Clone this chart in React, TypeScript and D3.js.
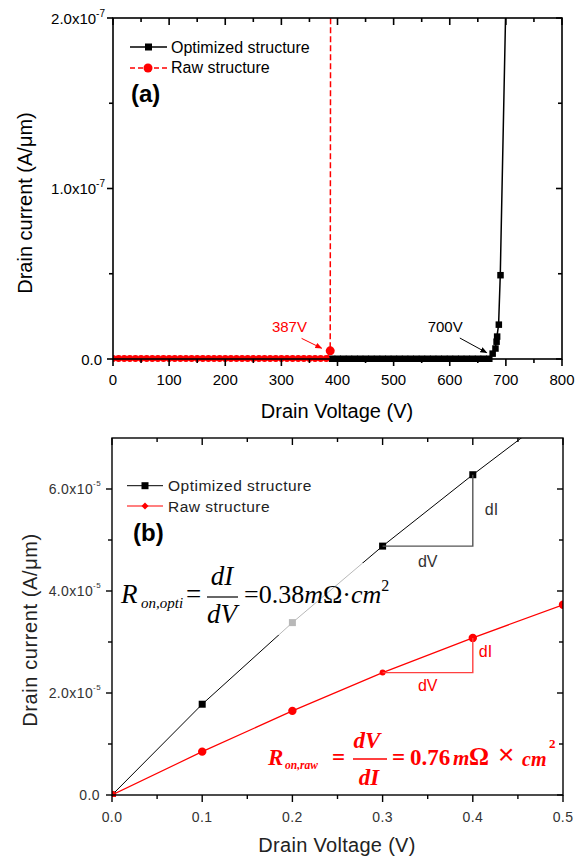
import React from "react";
import * as d3 from "d3";

// ---------- Panel (a) data ----------
const rawVa = [0, 10, 20, 30, 40, 50, 60, 70, 80, 90, 100, 110, 120, 130, 140, 150, 160, 170, 180, 190, 200, 210, 220, 230, 240, 250, 260, 270, 280, 290, 300, 310, 320, 330, 340, 350, 360, 370, 380, 387, 388];
const rawIa = [0, 0, 0, 0, 0, 0, 0, 0, 0, 0, 0, 0, 0, 0, 0, 0, 0, 0, 0, 0, 0, 0, 0, 0, 0, 0, 0, 0, 0, 0, 0, 0, 0, 0, 0, 0, 0, 0, 0, 4.5e-9, 3e-7];
const optVa = [390, 400, 410, 420, 430, 440, 450, 460, 470, 480, 490, 500, 510, 520, 530, 540, 550, 560, 570, 580, 590, 600, 610, 620, 630, 640, 650, 660, 670, 676, 681, 683, 684, 687, 690, 700];
const optIa = [0, 0, 0, 0, 0, 0, 0, 0, 0, 0, 0, 0, 0, 0, 0, 0, 0, 0, 0, 0, 0, 0, 0, 0, 0, 0, 0, 0, 0, 3e-9, 6e-9, 1.0e-8, 1.3e-8, 2.0e-8, 4.9e-8, 2.1e-7];

const xMajorA = [0, 100, 200, 300, 400, 500, 600, 700, 800];
const xMinorA = [50, 150, 250, 350, 450, 550, 650, 750];
const yMajorA = [0, 1e-7, 2e-7];
const yLabelsA = ["0.0", "1.0x10", "2.0x10"];
const yExpA = ["", "-7", "-7"];
const yMinorA = [0.5e-7, 1.5e-7];

// annotations (data coords): text anchor point, arrow start, arrow tip
const annA = [
  { label: "387V", tx: 345.6, ty: 1.6e-8, ax: 336, ay: 1.21e-8, bx: 371.8, by: 6.3e-9, color: "#ff0000", anchor: "end" },
  { label: "700V", tx: 560.7, ty: 1.6e-8, ax: 618, ay: 1.23e-8, bx: 665.8, by: 3.7e-9, color: "#000000", anchor: "start" },
];

// ---------- Panel (b) data ----------
const voltB = [0, 0.1, 0.2, 0.3, 0.4, 0.5];
const optIb = [0, 1.78e-5, 3.38e-5, 4.88e-5, 6.28e-5, 7.62e-5];
const rawIb = [0, 0.85e-5, 1.65e-5, 2.4e-5, 3.08e-5, 3.73e-5];
const triFrom = 3; // index 0.3 V
const triTo = 4; // index 0.4 V

const xMajorB = [0, 0.1, 0.2, 0.3, 0.4, 0.5];
const xLabelsB = ["0.0", "0.1", "0.2", "0.3", "0.4", "0.5"];
const xMinorB = [0.05, 0.15, 0.25, 0.35, 0.45];
const yMajorB = [0, 2e-5, 4e-5, 6e-5];
const yLabelsB = ["0.0", "2.0x10", "4.0x10", "6.0x10"];
const yExpB = ["", "-5", "-5", "-5"];
const yMinorB = [1e-5, 3e-5, 5e-5];

const SANS = "'Liberation Sans', Arial, sans-serif";
const SERIF = "'Liberation Serif', 'Times New Roman', serif";

type FrameProps = {
  x: d3.ScaleLinear<number, number>;
  y: d3.ScaleLinear<number, number>;
  xMajor: number[];
  xMinor: number[];
  yMajor: number[];
  yMinor: number[];
  sw: number;
};

function Frame({ x, y, xMajor, xMinor, yMajor, yMinor, sw }: FrameProps) {
  const [l, r] = x.range();
  const [b, t] = y.range();
  const ticks: JSX.Element[] = [];
  xMajor.forEach((v, i) => {
    ticks.push(<line key={"xb" + i} x1={x(v)} x2={x(v)} y1={b} y2={b + 7} />);
    ticks.push(<line key={"xt" + i} x1={x(v)} x2={x(v)} y1={t} y2={t + 7} />);
  });
  xMinor.forEach((v, i) => {
    ticks.push(<line key={"xbm" + i} x1={x(v)} x2={x(v)} y1={b} y2={b + 4} />);
    ticks.push(<line key={"xtm" + i} x1={x(v)} x2={x(v)} y1={t} y2={t + 4} />);
  });
  yMajor.forEach((v, i) => {
    ticks.push(<line key={"yl" + i} x1={l - 6} x2={l} y1={y(v)} y2={y(v)} />);
    ticks.push(<line key={"yr" + i} x1={r - 6} x2={r} y1={y(v)} y2={y(v)} />);
  });
  yMinor.forEach((v, i) => {
    ticks.push(<line key={"ylm" + i} x1={l - 4} x2={l} y1={y(v)} y2={y(v)} />);
    ticks.push(<line key={"yrm" + i} x1={r - 4} x2={r} y1={y(v)} y2={y(v)} />);
  });
  return (
    <g stroke="#000" strokeWidth={sw} fill="none">
      <rect x={l} y={t} width={r - l} height={b - t} />
      {ticks}
    </g>
  );
}

export default function App() {
  // Panel (a)
  const xa = d3.scaleLinear().domain([0, 800]).range([113, 562]);
  const ya = d3.scaleLinear().domain([0, 2e-7]).range([359, 18]);
  const rawPathA = d3.line<number>().x((_, i) => xa(rawVa[i])).y((d) => ya(d))(rawIa) || "";
  const optPathA = d3.line<number>().x((_, i) => xa(optVa[i])).y((d) => ya(d))(optIa) || "";

  // Panel (b)
  const xb = d3.scaleLinear().domain([0, 0.5]).range([112, 563]);
  const yb = d3.scaleLinear().domain([0, 7e-5]).range([795, 438]);
  const optPathB = d3.line<number>().x((_, i) => xb(voltB[i])).y((d) => yb(d))(optIb) || "";
  const rawPathB = d3.line<number>().x((_, i) => xb(voltB[i])).y((d) => yb(d))(rawIb) || "";

  const red = "#ff0000";

  return (
    <svg
      width={586}
      height={861}
      style={{ position: "absolute", left: 0, top: 0, background: "#fff" }}
      xmlns="http://www.w3.org/2000/svg"
    >
      <defs>
        <clipPath id="clipA">
          <rect x={113} y={18} width={449} height={345} />
        </clipPath>
        <clipPath id="clipB">
          <rect x={112} y={438} width={451} height={359} />
        </clipPath>
        <marker id="arrRed" viewBox="0 0 10 10" refX="9" refY="5" markerWidth="7" markerHeight="7" orient="auto">
          <path d="M0,1 L10,5 L0,9 z" fill={red} />
        </marker>
        <marker id="arrBlk" viewBox="0 0 10 10" refX="9" refY="5" markerWidth="7" markerHeight="7" orient="auto">
          <path d="M0,1 L10,5 L0,9 z" fill="#000" />
        </marker>
      </defs>
      <rect x={0} y={0} width={586} height={861} fill="#fff" />

      {/* ================= Panel (a) ================= */}
      <g clipPath="url(#clipA)">
        <path d={optPathA} fill="none" stroke="#000" strokeWidth={1.5} />
        {optVa.map((v, i) => (
          <rect key={"oa" + i} x={xa(v) - 3} y={ya(optIa[i]) - 3.5} width={6.5} height={6.5} fill="#000" />
        ))}
        <path d={rawPathA} fill="none" stroke={red} strokeWidth={1.5} strokeDasharray="6,3" />
        {rawVa.map((v, i) => (
          <circle
            key={"ra" + i}
            cx={xa(v)}
            cy={ya(rawIa[i]) - 0.5}
            r={i === rawVa.length - 2 ? 4.5 : 3.4}
            fill={red}
          />
        ))}
      </g>
      <Frame x={xa} y={ya} xMajor={xMajorA} xMinor={xMinorA} yMajor={yMajorA} yMinor={yMinorA} sw={1.6} />

      {/* tick labels (a) */}
      <g fontFamily={SANS} fontSize={15} fill="#000">
        {xMajorA.map((v) => (
          <text key={"xla" + v} x={xa(v)} y={385} textAnchor="middle">
            {v}
          </text>
        ))}
        {yMajorA.map((v, i) => (
          <text key={"yla" + i} x={yExpA[i] ? 105 : 102} y={ya(v) + 5.5} textAnchor="end">
            {yLabelsA[i]}
            {yExpA[i] ? (
              <tspan dy={-7} fontSize={10}>
                {yExpA[i]}
              </tspan>
            ) : null}
          </text>
        ))}
      </g>
      <text x={337} y={418} textAnchor="middle" fontFamily={SANS} fontSize={20}>
        Drain Voltage (V)
      </text>
      <text
        transform="translate(32,203) rotate(-90)"
        textAnchor="middle"
        fontFamily={SANS}
        fontSize={20}
      >
        Drain current (A/μm)
      </text>

      {/* legend (a) */}
      <line x1={130} x2={167} y1={47} y2={47} stroke="#000" strokeWidth={1.5} />
      <rect x={145} y={43.5} width={7} height={7} fill="#000" />
      <text x={171} y={53} fontFamily={SANS} fontSize={16}>
        Optimized structure
      </text>
      <line x1={130} x2={167} y1={68} y2={68} stroke={red} strokeWidth={1.5} strokeDasharray="5,3" />
      <circle cx={148} cy={68} r={4.5} fill={red} />
      <text x={171} y={73} fontFamily={SANS} fontSize={16}>
        Raw structure
      </text>
      <text x={131} y={102} fontFamily={SANS} fontSize={24} fontWeight="bold">
        (a)
      </text>

      {/* annotations (a) */}
      {annA.map((a) => (
        <g key={a.label}>
          <text
            x={xa(a.tx)}
            y={ya(a.ty)}
            textAnchor={a.anchor as any}
            fontFamily={SANS}
            fontSize={15}
            fill={a.color}
          >
            {a.label}
          </text>
          <line
            x1={xa(a.ax)}
            y1={ya(a.ay)}
            x2={xa(a.bx)}
            y2={ya(a.by)}
            stroke={a.color}
            strokeWidth={1}
            markerEnd={a.color === "#000000" ? "url(#arrBlk)" : "url(#arrRed)"}
          />
        </g>
      ))}

      {/* ================= Panel (b) ================= */}
      <g clipPath="url(#clipB)">
        <path d={optPathB} fill="none" stroke="#000" strokeWidth={1} />
        <path d={rawPathB} fill="none" stroke={red} strokeWidth={1.2} />
        {voltB.map((v, i) => (
          <rect key={"ob" + i} x={xb(v) - 3.5} y={yb(optIb[i]) - 3.5} width={7} height={7} fill="#000" />
        ))}
        {voltB.map((v, i) => (
          <circle key={"rb" + i} cx={xb(v)} cy={yb(rawIb[i])} r={i === 3 ? 3 : 4.2} fill={red} />
        ))}
        {/* dI / dV triangles */}
        <path
          d={`M${xb(voltB[triFrom])},${yb(optIb[triFrom])} H${xb(voltB[triTo])} V${yb(optIb[triTo])}`}
          fill="none"
          stroke="#555"
          strokeWidth={1.4}
        />
        <path
          d={`M${xb(voltB[triFrom])},${yb(rawIb[triFrom])} H${xb(voltB[triTo])} V${yb(rawIb[triTo])}`}
          fill="none"
          stroke="#ff4040"
          strokeWidth={1.4}
        />
      </g>
      {/* translucent backdrop of the pasted formula */}
      <rect x={118} y={563} width={282} height={72} fill="#fff" opacity={0.72} />
      <Frame x={xb} y={yb} xMajor={xMajorB} xMinor={xMinorB} yMajor={yMajorB} yMinor={yMinorB} sw={1.4} />

      {/* tick labels (b) */}
      <g fontFamily={SANS} fontSize={14} fill="#333" letterSpacing={0.4}>
        {xMajorB.map((v, i) => (
          <text key={"xlb" + i} x={xb(v)} y={822} textAnchor="middle">
            {xLabelsB[i]}
          </text>
        ))}
        {yMajorB.map((v, i) => (
          <text key={"ylb" + i} x={yExpB[i] ? 101 : 100} y={yb(v) + 5} textAnchor="end">
            {yLabelsB[i]}
            {yExpB[i] ? (
              <tspan dy={-8} fontSize={8}>
                {yExpB[i]}
              </tspan>
            ) : null}
          </text>
        ))}
      </g>
      <text x={337} y={852} textAnchor="middle" fontFamily={SANS} fontSize={20} fill="#222" letterSpacing={0.3}>
        Drain Voltage (V)
      </text>
      <text
        transform="translate(37,630) rotate(-90)"
        textAnchor="middle"
        fontFamily={SANS}
        fontSize={20}
        fill="#222"
        letterSpacing={0.6}
      >
        Drain current (A/μm)
      </text>

      {/* legend (b) */}
      <line x1={127} x2={163} y1={485.7} y2={485.7} stroke="#000" strokeWidth={1} />
      <rect x={141.5} y={482.2} width={7} height={7} fill="#000" />
      <text x={168} y={490.5} fontFamily={SANS} fontSize={15.5} fill="#222" letterSpacing={0.5}>
        Optimized structure
      </text>
      <line x1={127} x2={163} y1={506} y2={506} stroke={red} strokeWidth={1.2} />
      <path d="M145,502.5 L148.5,506 L145,509.5 L141.5,506 Z" fill={red} />
      <text x={168} y={511.5} fontFamily={SANS} fontSize={15.5} fill="#222" letterSpacing={0.5}>
        Raw structure
      </text>
      <text x={133} y={541} fontFamily={SANS} fontSize={24} fontWeight="bold">
        (b)
      </text>

      {/* dI / dV labels */}
      <g fontFamily={SANS} fontSize={16}>
        <text x={xb(voltB[triTo]) + 12} y={515} fill="#333">dI</text>
        <text x={xb((voltB[triFrom] + voltB[triTo]) / 2)} y={567} textAnchor="middle" fill="#333">dV</text>
        <text x={xb(voltB[triTo]) + 6} y={657} fill={red}>dI</text>
        <text x={xb((voltB[triFrom] + voltB[triTo]) / 2)} y={691} textAnchor="middle" fill={red}>dV</text>
      </g>

      {/* black formula */}
      <g fontFamily={SERIF} fill="#000">
        <text x={121} y={603} fontSize={27} fontStyle="italic">R</text>
        <text x={141} y={608} fontSize={15} fontStyle="italic">on,opti</text>
        <text x={186} y={603} fontSize={27}>=</text>
        <text x={222} y={585} fontSize={27} fontStyle="italic" textAnchor="middle">dI</text>
        <line x1={207} x2={238} y1={597} y2={597} stroke="#000" strokeWidth={1.2} />
        <text x={222} y={623} fontSize={27} fontStyle="italic" textAnchor="middle">dV</text>
        <text x={244} y={603} fontSize={26}>
          =0.38
          <tspan fontStyle="italic">m</tspan>
          Ω·
          <tspan fontStyle="italic">cm</tspan>
          <tspan dy={-12} fontSize={16}>2</tspan>
        </text>
      </g>

      {/* red formula */}
      <g fontFamily={SERIF} fill={red} fontWeight="bold">
        <text x={268} y={765} fontSize={23} fontStyle="italic">R</text>
        <text x={285} y={769} fontSize={11.5} fontStyle="italic">on,raw</text>
        <text x={332} y={765} fontSize={23}>=</text>
        <text x={367} y={748} fontSize={23} fontStyle="italic" textAnchor="middle">dV</text>
        <line x1={353} x2={387} y1={759} y2={759} stroke={red} strokeWidth={1.5} />
        <text x={369} y={785} fontSize={23} fontStyle="italic" textAnchor="middle">dI</text>
        <text x={392} y={765} fontSize={23}>=</text>
        <text x={410} y={765} fontSize={23}>0.76</text>
        <text x={453} y={765} fontSize={21} fontStyle="italic">m</text>
        <text x={469} y={765} fontSize={25}>Ω</text>
        <text x={498} y={764} fontSize={28} fontFamily={SANS} fontWeight="normal">×</text>
        <text x={522} y={766} fontSize={20} fontStyle="italic">cm</text>
        <text x={549} y={748} fontSize={13}>2</text>
      </g>
    </svg>
  );
}
